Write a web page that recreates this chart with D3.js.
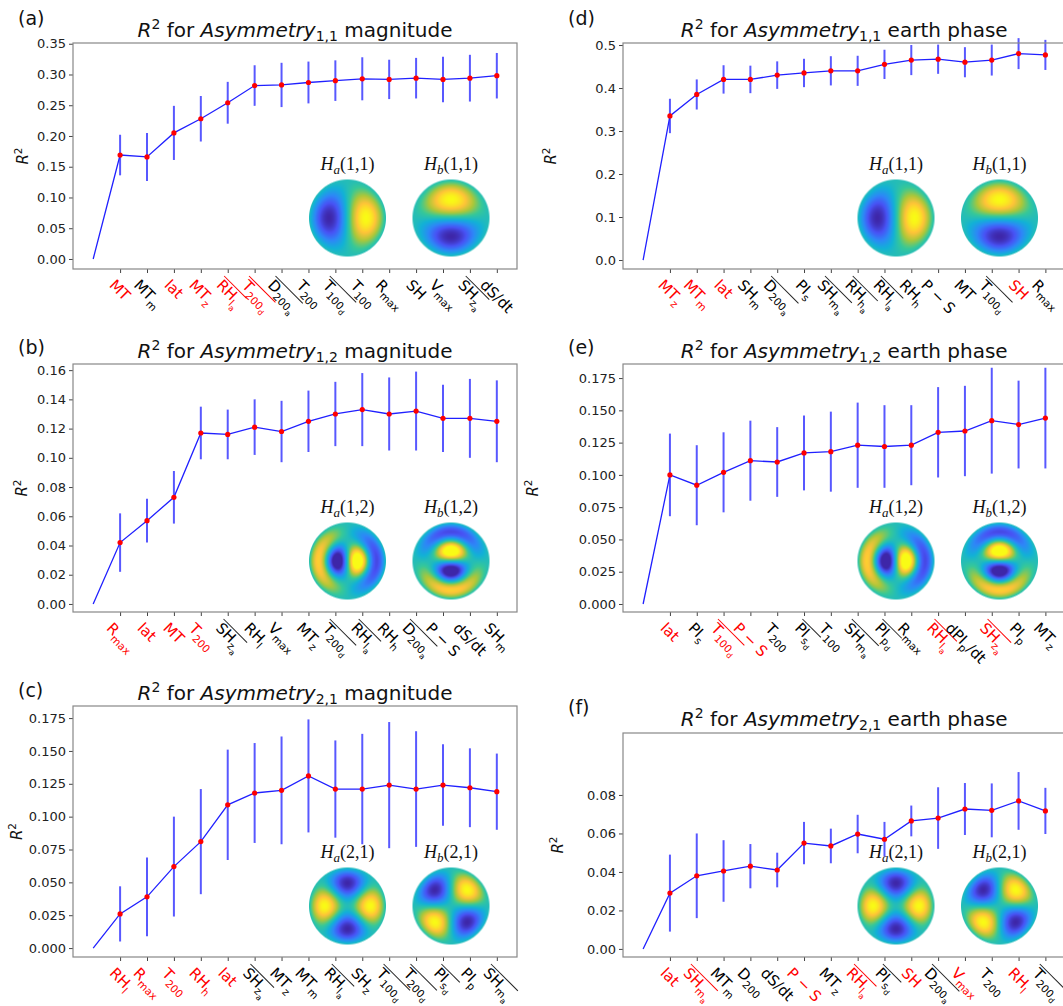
<!DOCTYPE html>
<html>
<head>
<meta charset="utf-8">
<script src="https://cdn.jsdelivr.net/npm/d3@7"></script>
<style>
body { margin: 0; background: #fff; }
svg { font-family: "DejaVu Sans", sans-serif; }
</style>
</head>
<body>
<script>
// ---------------- data ----------------
// "~" = overlined label, "_{..}" = subscript
var labelsA = ["MT", "MT_{m}", "lat", "MT_{z}", "~RH_{l_{a}}", "~T_{200_{d}}", "~D_{200_{a}}", "T_{200}",
               "~T_{100_{d}}", "T_{100}", "R_{max}", "SH", "V_{max}", "~SH_{z_{a}}", "dS/dt"]
var redA = [0, 2, 3, 4, 5]
var valuesA = [0, 0.169, 0.166, 0.205, 0.228, 0.254, 0.282, 0.283, 0.287, 0.290, 0.293, 0.292, 0.294, 0.292, 0.294, 0.298]
var errorsA = [0, 0.033, 0.039, 0.044, 0.037, 0.034, 0.033, 0.036, 0.034, 0.033, 0.035, 0.032, 0.033, 0.037, 0.038, 0.037]
var ticksA = [0, 0.05, 0.10, 0.15, 0.20, 0.25, 0.30, 0.35]

var labelsB = ["R_{max}", "lat", "MT", "T_{200}", "~SH_{z_{a}}", "RH_{l}", "V_{max}", "MT_{z}", "~T_{200_{d}}",
               "~RH_{l_{a}}", "RH_{h}", "~D_{200_{a}}", "P − S", "dS/dt", "SH_{m}"]
var redB = [0, 1, 2, 3]
var valuesB = [0, 0.042, 0.057, 0.073, 0.117, 0.116, 0.121, 0.118, 0.125, 0.130, 0.133, 0.130, 0.132, 0.127, 0.127, 0.125]
var errorsB = [0, 0.020, 0.015, 0.018, 0.018, 0.017, 0.019, 0.021, 0.021, 0.022, 0.025, 0.025, 0.027, 0.023, 0.027, 0.028]
var ticksB = [0, 0.02, 0.04, 0.06, 0.08, 0.10, 0.12, 0.14, 0.16]

var labelsC = ["RH_{l}", "R_{max}", "T_{200}", "RH_{h}", "lat", "~SH_{z_{a}}", "MT_{z}", "MT_{m}", "~RH_{l_{a}}",
               "SH_{z}", "~T_{100_{d}}", "~T_{200_{d}}", "~PI_{s_{d}}", "PI_{p}", "~SH_{m_{a}}"]
var redC = [0, 1, 2, 3, 4]
var valuesC = [0, 0.026, 0.039, 0.062, 0.081, 0.109, 0.118, 0.120, 0.131, 0.121, 0.121, 0.124, 0.121, 0.124, 0.122, 0.119]
var errorsC = [0, 0.021, 0.030, 0.038, 0.040, 0.042, 0.038, 0.041, 0.043, 0.037, 0.042, 0.048, 0.044, 0.031, 0.030, 0.029]
var ticksC = [0, 0.025, 0.050, 0.075, 0.100, 0.125, 0.150, 0.175]

var labelsD = ["MT_{z}", "MT_{m}", "lat", "SH_{m}", "~D_{200_{a}}", "PI_{s}", "~SH_{m_{a}}", "~RH_{h_{a}}",
               "~RH_{l_{a}}", "RH_{h}", "P − S", "MT", "~T_{100_{d}}", "SH", "R_{max}"]
var redD = [0, 1, 2, 13]
var valuesD = [0, 0.335, 0.385, 0.420, 0.420, 0.430, 0.435, 0.440, 0.440, 0.455, 0.465, 0.467, 0.460, 0.465, 0.480, 0.477]
var errorsD = [0, 0.040, 0.035, 0.033, 0.032, 0.032, 0.033, 0.034, 0.035, 0.034, 0.035, 0.034, 0.035, 0.036, 0.036, 0.035]
var ticksD = [0, 0.1, 0.2, 0.3, 0.4, 0.5]

var labelsE = ["lat", "PI_{s}", "~T_{100_{d}}", "P − S", "T_{200}", "~PI_{s_{d}}", "T_{100}", "~SH_{m_{a}}",
               "~PI_{p_{d}}", "R_{max}", "~RH_{l_{a}}", "dPI_{p}/dt", "~SH_{z_{a}}", "PI_{p}", "MT_{z}"]
var redE = [0, 2, 3, 10, 12]
var valuesE = [0, 0.100, 0.092, 0.102, 0.111, 0.110, 0.117, 0.118, 0.123, 0.122, 0.123, 0.133, 0.134, 0.142, 0.139, 0.144]
var errorsE = [0, 0.032, 0.031, 0.031, 0.031, 0.027, 0.029, 0.031, 0.033, 0.032, 0.031, 0.035, 0.035, 0.041, 0.034, 0.039]
var ticksE = [0, 0.025, 0.050, 0.075, 0.100, 0.125, 0.150, 0.175]

var labelsF = ["lat", "~SH_{m_{a}}", "MT_{m}", "D_{200}", "dS/dt", "P − S", "MT_{z}", "~RH_{l_{a}}", "~PI_{s_{d}}",
               "SH", "~D_{200_{a}}", "V_{max}", "T_{200}", "RH_{l}", "~T_{200_{d}}"]
var redF = [0, 1, 5, 7, 9, 11, 13]
var valuesF = [0, 0.029, 0.038, 0.0405, 0.043, 0.041, 0.055, 0.0535, 0.0597, 0.057, 0.0665, 0.068, 0.0727, 0.072, 0.0769, 0.0717]
var errorsF = [0, 0.020, 0.022, 0.016, 0.0115, 0.009, 0.011, 0.009, 0.010, 0.009, 0.008, 0.016, 0.0135, 0.014, 0.015, 0.012]
var ticksF = [0, 0.02, 0.04, 0.06, 0.08]

// harmonic shown in each inset: [azimuthal order, Bessel zero]
var modes = {"1,1": [1, 3.8317], "1,2": [1, 7.0156], "2,1": [2, 5.1356]}

// ---------------- layout ----------------
var panels = [
  {tag: "(a)", labels: labelsA, red: redA, values: valuesA, errors: errorsA, ticks: ticksA, fmt: ".2f",
   idx: "1,1", kind: "magnitude", frame: [73, 517, 43, 269], dom: [-0.0163, 0.3512], letterY: 25, titleY: 37, ylabX: 28},
  {tag: "(b)", labels: labelsB, red: redB, values: valuesB, errors: errorsB, ticks: ticksB, fmt: ".2f",
   idx: "1,2", kind: "magnitude", frame: [73, 517, 364, 612], dom: [-0.0055, 0.1642], letterY: 354, titleY: 358, ylabX: 27},
  {tag: "(c)", labels: labelsC, red: redC, values: valuesC, errors: errorsC, ticks: ticksC, fmt: ".3f",
   idx: "2,1", kind: "magnitude", frame: [73, 517, 706, 957], dom: [-0.0068, 0.1842], letterY: 697, titleY: 700, ylabX: 22},
  {tag: "(d)", labels: labelsD, red: redD, values: valuesD, errors: errorsD, ticks: ticksD, fmt: ".1f",
   idx: "1,1", kind: "earth phase", frame: [623, 1065.5, 43, 269], dom: [-0.0209, 0.5047], letterY: 25, titleY: 37, ylabX: 556},
  {tag: "(e)", labels: labelsE, red: redE, values: valuesE, errors: errorsE, ticks: ticksE, fmt: ".3f",
   idx: "1,2", kind: "earth phase", frame: [623, 1065.5, 364, 612], dom: [-0.0062, 0.1859], letterY: 354, titleY: 358, ylabX: 538},
  {tag: "(f)", labels: labelsF, red: redF, values: valuesF, errors: errorsF, ticks: ticksF, fmt: ".2f",
   idx: "2,1", kind: "earth phase", frame: [623, 1065.5, 733, 957], dom: [-0.0042, 0.1122], letterY: 714, titleY: 726, ylabX: 563}
]

var parula = [[0.2422, 0.1504, 0.6603], [0.2810, 0.3228, 0.9579], [0.1786, 0.5289, 0.9682], [0.0689, 0.6948, 0.8394],
              [0.2161, 0.7843, 0.5923], [0.6720, 0.7793, 0.2227], [0.9970, 0.7659, 0.2199], [0.9769, 0.9839, 0.0805]]
var colorScale = d3.scaleLinear()
  .domain(parula.map(function(d, i) { return i / (parula.length - 1) }))
  .range(parula.map(function(c) { return d3.rgb(c[0] * 255, c[1] * 255, c[2] * 255) }))
  .interpolate(d3.interpolateRgb)
  .clamp(true)

var svg = d3.select("body").append("svg")
  .attr("width", 1063)
  .attr("height", 1006)

panels.forEach(drawPanel)

// ---------------- helpers ----------------
function parseLabel(s) {
  var over = s[0] == "~"
  if (over) s = s.slice(1)
  var parts = []
  function push(c, lvl) {
    var last = parts[parts.length - 1]
    if (last && last.lvl == lvl) last.t += c
    else parts.push({t: c, lvl: lvl})
  }
  function walk(str, lvl) {
    var i = 0
    while (i < str.length) {
      if (str[i] == "_") {
        var inner
        if (str[i + 1] == "{") {
          var depth = 0, j = i + 1
          for (; j < str.length; j++) {
            if (str[j] == "{") depth++
            else if (str[j] == "}") { depth--; if (depth == 0) break }
          }
          inner = str.slice(i + 2, j)
          i = j + 1
        } else {
          inner = str[i + 1]
          i += 2
        }
        walk(inner, lvl + 1)
      } else {
        push(str[i], lvl)
        i++
      }
    }
  }
  walk(s, 0)
  return {over: over, parts: parts}
}

function besselJ(n, x) {
  var term = Math.pow(x / 2, n)
  for (var f = 2; f <= n; f++) term /= f
  var sum = term
  for (var k = 0; k < 40; k++) {
    term *= -(x / 2) * (x / 2) / ((k + 1) * (k + 1 + n))
    sum += term
  }
  return sum
}

function drawDisk(g, cx, cy, r, mode, useSin, gain) {
  var n = modes[mode][0], z = modes[mode][1]
  var mx = 0
  for (var s = 0; s <= 200; s++) mx = Math.max(mx, Math.abs(besselJ(n, z * s / 200)))
  var size = Math.round(2 * r)
  var cv = document.createElement("canvas")
  cv.width = size
  cv.height = size
  var ctx = cv.getContext("2d")
  var img = ctx.createImageData(size, size)
  for (var py = 0; py < size; py++) {
    for (var px = 0; px < size; px++) {
      var dx = (px + 0.5 - size / 2) / r
      var dy = -(py + 0.5 - size / 2) / r
      var rho = Math.sqrt(dx * dx + dy * dy)
      var a = Math.max(0, Math.min(1, (1 - rho) * r + 0.5))
      var th = Math.atan2(dy, dx)
      var ang = useSin ? Math.sin(n * th) : Math.cos(n * th)
      var v = besselJ(n, z * Math.min(rho, 1)) / mx * ang * gain
      var c = d3.rgb(colorScale((v + 1) / 2))
      var o = (py * size + px) * 4
      img.data[o] = c.r
      img.data[o + 1] = c.g
      img.data[o + 2] = c.b
      img.data[o + 3] = Math.round(a * 255)
    }
  }
  ctx.putImageData(img, 0, 0)
  g.append("image")
    .attr("href", cv.toDataURL())
    .attr("x", cx - size / 2)
    .attr("y", cy - size / 2)
    .attr("width", size)
    .attr("height", size)

  var lab = g.append("text")
    .attr("x", cx)
    .attr("y", cy - 48)
    .attr("text-anchor", "middle")
    .style("font-family", "'Liberation Serif', serif")
    .style("font-size", "18px")
    .attr("fill", "#111")
  lab.append("tspan").style("font-style", "italic").text("H")
  lab.append("tspan").style("font-style", "italic").style("font-size", "13px").attr("dy", 4).text(useSin ? "b" : "a")
  lab.append("tspan").attr("dy", -4).text("(" + mode + ")")
}

function drawXLabel(g, x, yTop, str, color) {
  var lab = parseLabel(str)
  var sizes = [15, 10.5, 8], offs = [0, 4.5, 7.5]
  var gl = g.append("g")
  var inner = gl.append("g")
  var text = inner.append("text").attr("fill", color).style("font-size", "15px")
  var prev = 0
  lab.parts.forEach(function(p) {
    text.append("tspan")
      .attr("dy", offs[p.lvl] - prev)
      .style("font-size", sizes[p.lvl] + "px")
      .text(p.t)
    prev = offs[p.lvl]
  })
  var bb = text.node().getBBox()
  if (lab.over) {
    inner.append("line")
      .attr("x1", bb.x - 1)
      .attr("x2", bb.x + bb.width + 1)
      .attr("y1", bb.y + 1)
      .attr("y2", bb.y + 1)
      .attr("stroke", color == "black" ? "#222" : color)
      .attr("stroke-width", 1)
  }
  var cx = bb.x + bb.width / 2, cy = bb.y + bb.height / 2
  var half = (bb.width + bb.height) / (2 * Math.SQRT2)
  inner.attr("transform", "translate(" + (-cx) + "," + (-cy) + ")")
  gl.attr("transform", "translate(" + x + "," + (yTop + half) + ") rotate(45)")
}

function drawPanel(p) {
  var x0 = p.frame[0], x1 = p.frame[1], y0 = p.frame[2], y1 = p.frame[3]
  var g = svg.append("g")

  var xScale = d3.scaleLinear().domain([-0.75, 15.75]).range([x0, x1])
  var yScale = d3.scaleLinear().domain(p.dom).range([y1, y0])

  // letter and title
  g.append("text")
    .attr("x", x0 - 55)
    .attr("y", p.letterY)
    .style("font-size", "19px")
    .attr("fill", "#111")
    .text(p.tag)

  var t = g.append("text")
    .attr("x", (x0 + x1) / 2)
    .attr("y", p.titleY)
    .attr("text-anchor", "middle")
    .style("font-size", "20px")
    .attr("fill", "#111")
  t.append("tspan").style("font-style", "italic").text("R")
  t.append("tspan").style("font-size", "14px").attr("dy", -8).text("2")
  t.append("tspan").attr("dy", 8).text(" for ")
  t.append("tspan").style("font-style", "italic").text("Asymmetry")
  t.append("tspan").style("font-size", "14px").attr("dy", 4).text(p.idx)
  t.append("tspan").attr("dy", -4).text(" " + p.kind)

  // y axis
  var yAxis = d3.axisLeft(yScale)
    .tickValues(p.ticks)
    .tickFormat(d3.format(p.fmt))
    .tickSize(4)
    .tickPadding(3)
  var ya = g.append("g")
    .attr("transform", "translate(" + x0 + ",0)")
    .call(yAxis)
  ya.select(".domain").remove()
  ya.selectAll("text").style("font-size", "13px").attr("fill", "#222").style("font-family", "'DejaVu Sans', sans-serif")
  ya.selectAll("line").attr("stroke", "#444")

  var yl = g.append("text")
    .attr("transform", "translate(" + p.ylabX + "," + ((y0 + y1) / 2) + ") rotate(-90)")
    .attr("text-anchor", "middle")
    .style("font-size", "15px")
    .attr("fill", "#111")
  yl.append("tspan").style("font-style", "italic").text("R")
  yl.append("tspan").style("font-size", "10.5px").attr("dy", -6).text("2")

  // x ticks and labels
  var xa = g.append("g")
    .attr("transform", "translate(0," + y1 + ")")
    .call(d3.axisBottom(xScale).tickValues(d3.range(1, 16)).tickSize(4).tickFormat(""))
  xa.select(".domain").remove()
  xa.selectAll("line").attr("stroke", "#444")

  p.labels.forEach(function(lab, i) {
    var color = p.red.indexOf(i) >= 0 ? "red" : "black"
    drawXLabel(g, xScale(i + 1), y1 + 7, lab, color)
  })

  // insets
  var gain = p.idx == "1,2" ? 1.3 : 1.0
  drawDisk(g, x1 - 169.5, y1 - 51, 38.5, p.idx, false, gain)
  drawDisk(g, x1 - 66, y1 - 51, 38.5, p.idx, true, gain)

  // error bars
  g.append("g").selectAll("line")
    .data(p.values.slice(1))
    .enter().append("line")
    .attr("x1", function(d, i) { return xScale(i + 1) })
    .attr("x2", function(d, i) { return xScale(i + 1) })
    .attr("y1", function(d, i) { return yScale(d - p.errors[i + 1]) })
    .attr("y2", function(d, i) { return yScale(d + p.errors[i + 1]) })
    .attr("stroke", "#3b3bff")
    .attr("stroke-opacity", 0.85)
    .attr("stroke-width", 2)

  // mean line
  var line = d3.line()
    .x(function(d, i) { return xScale(i) })
    .y(function(d) { return yScale(d) })
  g.append("path")
    .datum(p.values)
    .attr("d", line)
    .attr("fill", "none")
    .attr("stroke", "#2020ff")
    .attr("stroke-width", 1.3)

  g.append("g").selectAll("circle")
    .data(p.values.slice(1))
    .enter().append("circle")
    .attr("cx", function(d, i) { return xScale(i + 1) })
    .attr("cy", function(d) { return yScale(d) })
    .attr("r", 2.6)
    .attr("fill", "red")

  // frame
  g.append("rect")
    .attr("x", x0)
    .attr("y", y0)
    .attr("width", x1 - x0)
    .attr("height", y1 - y0)
    .attr("fill", "none")
    .attr("stroke", "#888")
    .attr("stroke-width", 1.2)
}
</script>
</body>
</html>
